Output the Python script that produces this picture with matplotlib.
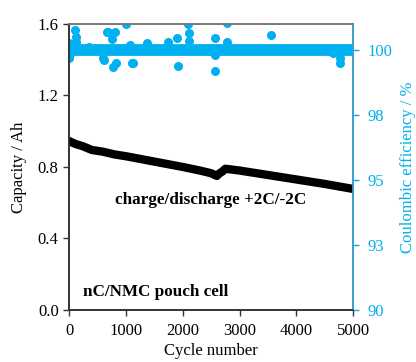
import numpy as np
import matplotlib.pyplot as plt
from matplotlib.ticker import FixedLocator, FuncFormatter

# capacity (black)
cap_cycle = [0, 100, 250, 400, 600, 800, 1000, 1500, 2000, 2300, 2500, 2600, 2650, 2700, 2750, 3000, 3500, 4000, 4500, 5000]
cap_ah = [0.945, 0.93, 0.915, 0.895, 0.885, 0.87, 0.86, 0.83, 0.80, 0.78, 0.765, 0.75, 0.765, 0.775, 0.79, 0.78, 0.755, 0.73, 0.705, 0.677]

# coulombic efficiency: main band plus scattered points
ce_band_cycle = [0, 5000]
ce_band = [100.0, 100.0]
ce_cycle = [0, 0, 20, 105, 120, 120, 350, 600, 620, 670, 690, 755, 770, 810, 830, 1000, 1075, 1110, 1120,
            1370, 1740, 1900, 1915, 2100, 2110, 2110, 2570, 2570, 2570, 2780, 2780, 3550, 4170, 4650, 4770, 4770]
ce_pct = [99.7, 100.25, 99.85, 100.77, 100.5, 100.3, 100.1, 99.7, 99.6, 100.7, 100.7, 100.4, 99.35, 100.7, 99.5,
          101.0, 100.2, 99.5, 99.5, 100.25, 100.3, 100.46, 99.4, 101.0, 100.65, 100.35, 100.46, 99.2, 99.8,
          101.04, 100.3, 100.58, 100.0, 99.9, 99.5, 99.7]

blue = '#00b0f0'
plt.rcParams['font.family'] = ['Liberation Serif', 'DejaVu Serif']

fig = plt.figure(figsize=(4.16, 3.62), dpi=100)
ax = fig.add_axes([0.166, 0.1436, 0.683, 0.7904])
ax2 = ax.twinx()

# blue CE drawn first (behind capacity)
ax.set_zorder(ax2.get_zorder() + 1)
ax.patch.set_visible(False)

ax2.plot(ce_band_cycle, ce_band, color=blue, lw=8.5, solid_capstyle='round')
ax2.plot(ce_cycle, ce_pct, 'o', color=blue, ms=6.5, mec='none')
ax2.set_ylim(90, 101)
ax2.yaxis.set_major_locator(FixedLocator([90, 92.5, 95, 97.5, 100]))
ax2.yaxis.set_major_formatter(FuncFormatter(lambda v, p: '%d' % int(v + 0.5)))
ax2.tick_params(axis='y', colors=blue, labelsize=12, length=4, width=1, direction='out', pad=6)
ax2.set_ylabel('Coulombic efficiency / %', color=blue, fontsize=12, labelpad=6)

ax.plot(cap_cycle, cap_ah, color='black', lw=6, solid_capstyle='round', solid_joinstyle='round')
ax.set_xlim(0, 5000)
ax.set_ylim(0, 1.6)
ax.set_xticks([0, 1000, 2000, 3000, 4000, 5000])
ax.set_yticks([0, 0.4, 0.8, 1.2, 1.6])
ax.yaxis.set_major_formatter(FuncFormatter(lambda v, p: '%.1f' % v))
ax.tick_params(axis='both', labelsize=12, length=4, width=1, direction='out', colors='#333333', labelcolor='black')
ax.tick_params(axis='x', pad=5)
ax.set_xlabel('Cycle number', fontsize=12, labelpad=3)
ax.set_ylabel('Capacity / Ah', fontsize=12, labelpad=8)

ax.text(0.5, 0.385, 'charge/discharge +2C/-2C', transform=ax.transAxes, fontsize=12.3,
        fontweight='bold', ha='center', va='center')
ax.text(0.05, 0.063, 'nC/NMC pouch cell', transform=ax.transAxes, fontsize=12.3,
        fontweight='bold', ha='left', va='center')

for a in (ax, ax2):
    a.spines['left'].set_color('#333333')
    a.spines['bottom'].set_color('#333333')
    a.spines['top'].set_color('#777777')
    a.spines['right'].set_color('#3a9fd0')
    for s in a.spines.values():
        s.set_linewidth(1.2)

fig.savefig('out.png', dpi=100)
